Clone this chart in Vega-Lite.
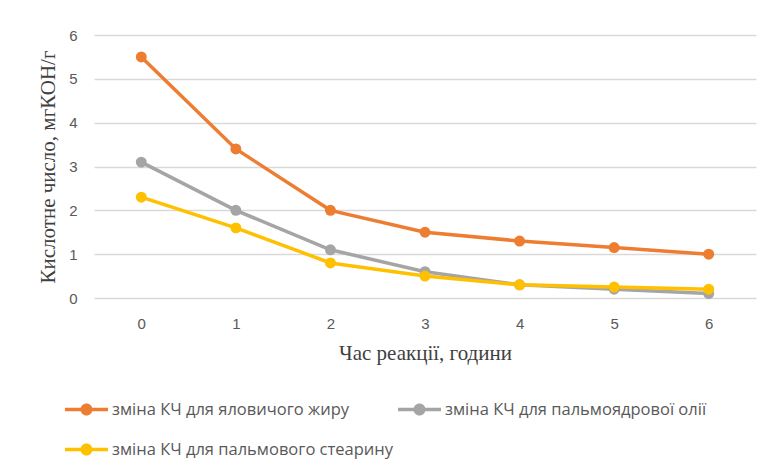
{
  "$schema": "https://vega.github.io/schema/vega-lite/v6.json",
  "width": 662,
  "height": 263,
  "autosize": {"type": "none"},
  "padding": {"left": 94, "top": 35, "right": 13, "bottom": 170},
  "background": "white",
  "config": {
    "view": {"stroke": null},
    "axis": {"domain": false, "ticks": false, "gridColor": "#D9D9D9", "gridWidth": 1.3, "labelFont": "Liberation Sans", "labelFontSize": 15, "labelColor": "#595959", "titleFont": "Liberation Serif", "titleFontSize": 21, "titleFontWeight": "normal", "titleColor": "#404040"}
  },
  "data": {"values": [
    {"t": 0, "s": "зміна КЧ для яловичого жиру", "v": 5.5},
    {"t": 1, "s": "зміна КЧ для яловичого жиру", "v": 3.4},
    {"t": 2, "s": "зміна КЧ для яловичого жиру", "v": 2.0},
    {"t": 3, "s": "зміна КЧ для яловичого жиру", "v": 1.5},
    {"t": 4, "s": "зміна КЧ для яловичого жиру", "v": 1.3},
    {"t": 5, "s": "зміна КЧ для яловичого жиру", "v": 1.15},
    {"t": 6, "s": "зміна КЧ для яловичого жиру", "v": 1.0},
    {"t": 0, "s": "зміна КЧ для пальмоядрової олії", "v": 3.1},
    {"t": 1, "s": "зміна КЧ для пальмоядрової олії", "v": 2.0},
    {"t": 2, "s": "зміна КЧ для пальмоядрової олії", "v": 1.1},
    {"t": 3, "s": "зміна КЧ для пальмоядрової олії", "v": 0.6},
    {"t": 4, "s": "зміна КЧ для пальмоядрової олії", "v": 0.3},
    {"t": 5, "s": "зміна КЧ для пальмоядрової олії", "v": 0.2},
    {"t": 6, "s": "зміна КЧ для пальмоядрової олії", "v": 0.1},
    {"t": 0, "s": "зміна КЧ для пальмового стеарину", "v": 2.3},
    {"t": 1, "s": "зміна КЧ для пальмового стеарину", "v": 1.6},
    {"t": 2, "s": "зміна КЧ для пальмового стеарину", "v": 0.8},
    {"t": 3, "s": "зміна КЧ для пальмового стеарину", "v": 0.5},
    {"t": 4, "s": "зміна КЧ для пальмового стеарину", "v": 0.3},
    {"t": 5, "s": "зміна КЧ для пальмового стеарину", "v": 0.25},
    {"t": 6, "s": "зміна КЧ для пальмового стеарину", "v": 0.2}
  ]},
  "encoding": {
    "x": {"field": "t", "type": "ordinal", "scale": {"type": "point", "padding": 0.5}, "axis": {"labelAngle": 0, "labelPadding": 18, "title": "Час реакції, години", "titlePadding": 11, "grid": false}},
    "y": {"field": "v", "type": "quantitative", "scale": {"domain": [0, 6]}, "axis": {"values": [0, 1, 2, 3, 4, 5, 6], "labelPadding": 17, "title": "Кислотне число, мгКОН/г", "titlePadding": 10}},
    "color": {
      "field": "s", "type": "nominal",
      "scale": {"domain": ["зміна КЧ для яловичого жиру", "зміна КЧ для пальмоядрової олії", "зміна КЧ для пальмового стеарину"], "range": ["#ED7D31", "#A5A5A5", "#FFC000"]},
      "legend": {
        "title": null, "orient": "none", "legendX": -29, "legendY": 353, "direction": "horizontal", "columns": 2,
        "symbolType": "M-1,-0.08H1V0.08H-1Z M-0.28,0A0.28,0.28 0 1,1 0.28,0A0.28,0.28 0 1,1 -0.28,0Z",
        "symbolSize": 1849, "symbolStrokeWidth": 0,
        "labelFont": "Open Sans", "labelFontSize": 16.5, "labelColor": "#595959", "labelOffset": 4, "labelLimit": 400,
        "columnPadding": 5, "rowPadding": 10,
        "encode": {"symbols": {"update": {"fill": {"scale": "color", "field": "value"}, "stroke": {"value": "transparent"}, "opacity": {"value": 1}}}}
      }
    }
  },
  "layer": [
    {"mark": {"type": "line", "strokeWidth": 3.5}},
    {"mark": {"type": "point", "filled": true, "size": 120, "opacity": 1}}
  ]
}
